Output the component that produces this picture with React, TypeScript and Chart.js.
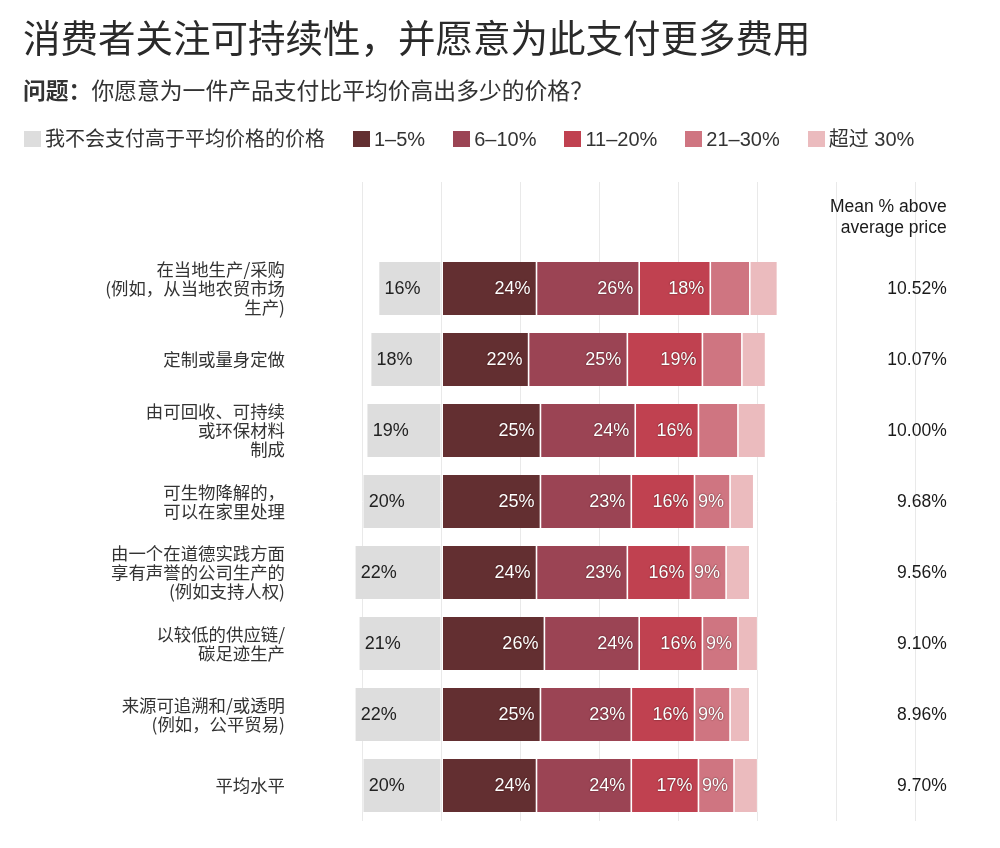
import React, { useEffect, useRef } from 'react';
import { Chart, registerables } from 'chart.js';

Chart.register(...registerables);

// ---- text ----
const titleText = '消费者关注可持续性，并愿意为此支付更多费用';
const questionLabel = '问题：';
const questionText = '你愿意为一件产品支付比平均价高出多少的价格？';
const meanHeader = ['Mean % above', 'average price'];

// ---- categories ----
const categories: string[][] = [
  ['在当地生产/采购', '(例如，从当地农贸市场', '生产)'],
  ['定制或量身定做'],
  ['由可回收、可持续', '或环保材料', '制成'],
  ['可生物降解的，', '可以在家里处理'],
  ['由一个在道德实践方面', '享有声誉的公司生产的', '(例如支持人权)'],
  ['以较低的供应链/', '碳足迹生产'],
  ['来源可追溯和/或透明', '(例如，公平贸易)'],
  ['平均水平'],
];

// ---- series ----
const seriesNames = ['我不会支付高于平均价格的价格', '1–5%', '6–10%', '11–20%', '21–30%', '超过 30%'];
const seriesColors = ['#dddddd', '#632f31', '#9b4454', '#c04150', '#cf7581', '#ebbbbe'];

const wontPay = [16, 18, 19, 20, 22, 21, 22, 20];
const pay1to5 = [24, 22, 25, 25, 24, 26, 25, 24];
const pay6to10 = [26, 25, 24, 23, 23, 24, 23, 24];
const pay11to20 = [18, 19, 16, 16, 16, 16, 16, 17];
const pay21to30 = [10, 10, 10, 9, 9, 9, 9, 9];
const pay30plus = [7, 6, 7, 6, 6, 5, 5, 6];

const labeled21to30 = [false, false, false, true, true, true, true, true];

const means = ['10.52%', '10.07%', '10.00%', '9.68%', '9.56%', '9.10%', '8.96%', '9.70%'];

// ---- x axis ticks ----
const xMin = -20;
const xMax = 120;
const xStep = 20;

const FONT_LATIN = '"Liberation Sans", Arial, "Noto Sans CJK SC", sans-serif';
const FONT_CJK = '"Noto Sans CJK SC", "Liberation Sans", sans-serif';

const barLabels = {
  id: 'barLabels',
  afterDatasetsDraw(chart: any) {
    const { ctx } = chart;
    ctx.save();
    ctx.font = '18px ' + FONT_LATIN;
    ctx.textBaseline = 'middle';
    chart.data.datasets.forEach((ds: any, di: number) => {
      const meta = chart.getDatasetMeta(di);
      meta.data.forEach((el: any, i: number) => {
        const v = ds.data[i];
        if (v == null || !ds.labelMask[i]) return;
        const text = Math.abs(v) + '%';
        if (v < 0) {
          ctx.textAlign = 'left';
          ctx.shadowColor = 'transparent';
          ctx.shadowBlur = 0;
          ctx.fillStyle = '#222';
          ctx.fillText(text, el.x + 6, el.y + 1);
        } else {
          ctx.textAlign = 'right';
          ctx.shadowColor = 'rgba(40,0,0,0.9)';
          ctx.shadowBlur = 1.5;
          ctx.fillStyle = '#ffffff';
          ctx.fillText(text, el.x - 6, el.y + 1);
        }
      });
    });
    ctx.restore();
  },
};

const meanColumn = {
  id: 'meanColumn',
  afterDraw(chart: any) {
    const { ctx, chartArea } = chart;
    const yScale = chart.scales.y;
    const x = chartArea.right + 31;
    ctx.save();
    ctx.font = '17.5px ' + FONT_LATIN;
    ctx.fillStyle = '#1a1a1a';
    ctx.textAlign = 'right';
    ctx.textBaseline = 'middle';
    const y0 = yScale.getPixelForValue(0);
    ctx.fillText(meanHeader[0], x, y0 - 10.5);
    ctx.fillText(meanHeader[1], x, y0 + 10.5);
    means.forEach((m, i) => {
      ctx.fillText(m, x, yScale.getPixelForValue(i + 1) + 1);
    });
    ctx.restore();
  },
};

export default function App() {
  const canvasRef = useRef<HTMLCanvasElement | null>(null);

  useEffect(() => {
    if (!canvasRef.current) return;
    const withHeader = (arr: any[]) => [null, ...arr];
    const allOn = categories.map(() => true);
    const allOff = categories.map(() => false);
    const seriesData = [
      wontPay.map((v) => -v),
      pay1to5,
      pay6to10,
      pay11to20,
      pay21to30,
      pay30plus,
    ];
    const masks = [allOn, allOn, allOn, allOn, labeled21to30, allOff];
    const noPad = (s: any) => {
      s.paddingTop = 0;
      s.paddingBottom = 0;
      s.paddingLeft = 0;
      s.paddingRight = 0;
    };

    const chart = new Chart(canvasRef.current, {
      type: 'bar',
      data: {
        labels: ['', ...categories] as any,
        datasets: seriesData.map((d, k) => ({
          label: seriesNames[k],
          data: withHeader(d),
          backgroundColor: seriesColors[k],
          borderColor: '#ffffff',
          borderWidth: { left: 0.8, right: 0.8, top: 0, bottom: 0 },
          borderSkipped: false,
          barPercentage: 0.745,
          categoryPercentage: 1,
          clip: false,
          labelMask: withHeader(masks[k]),
        })) as any,
      },
      options: {
        indexAxis: 'y',
        responsive: false,
        maintainAspectRatio: false,
        animation: false,
        events: [],
        layout: { padding: { top: 182, bottom: 27, left: 0, right: 84.3 } },
        plugins: {
          legend: { display: false },
          tooltip: { enabled: false },
        },
        scales: {
          x: {
            type: 'linear',
            stacked: true,
            min: xMin,
            max: xMax,
            position: 'bottom',
            ticks: { display: false, stepSize: xStep },
            grid: { color: '#e9e9e9', lineWidth: 1, drawTicks: false },
            border: { display: false },
            afterFit: (s: any) => {
              s.height = 0;
              noPad(s);
            },
          },
          y: {
            type: 'category',
            stacked: true,
            position: 'left',
            grid: { display: false, drawTicks: false },
            border: { display: false },
            ticks: {
              autoSkip: false,
              padding: 77.7,
              color: '#333',
              font: { family: FONT_CJK, size: 17.4, lineHeight: 1.1 },
            },
            afterFit: (s: any) => {
              s.width = 362.7;
              noPad(s);
            },
          },
        },
      } as any,
      plugins: [barLabels, meanColumn],
    });
    return () => chart.destroy();
  }, []);

  return (
    <div
      style={{
        position: 'fixed',
        left: 0,
        top: 0,
        width: 1000,
        height: 848,
        background: '#ffffff',
        overflow: 'hidden',
      }}
    >
      <canvas
        ref={canvasRef}
        width={1000}
        height={848}
        style={{ position: 'absolute', left: 0, top: 0, width: 1000, height: 848 }}
      />
      <div
        style={{
          position: 'absolute',
          left: 23,
          top: 17,
          fontFamily: FONT_CJK,
          fontSize: 37.5,
          lineHeight: '38px',
          color: '#2a2a2a',
          whiteSpace: 'nowrap',
        }}
      >
        {titleText}
      </div>
      <div
        style={{
          position: 'absolute',
          left: 23,
          top: 78,
          fontFamily: FONT_CJK,
          fontSize: 22.8,
          lineHeight: '24px',
          color: '#333',
          whiteSpace: 'nowrap',
        }}
      >
        <span style={{ fontWeight: 700 }}>{questionLabel}</span>
        {questionText}
      </div>
      <div
        style={{
          position: 'absolute',
          left: 24,
          top: 128,
          height: 22,
          display: 'flex',
          alignItems: 'center',
          gap: 28,
          fontFamily: FONT_LATIN,
          fontSize: 20,
          color: '#333',
          whiteSpace: 'nowrap',
        }}
      >
        {seriesNames.map((n, k) => (
          <div key={n} style={{ display: 'flex', alignItems: 'center' }}>
            <span
              style={{
                display: 'inline-block',
                width: 17,
                height: 16,
                background: seriesColors[k],
                marginRight: 4,
              }}
            />
            <span style={{ lineHeight: '22px' }}>{n}</span>
          </div>
        ))}
      </div>
    </div>
  );
}
